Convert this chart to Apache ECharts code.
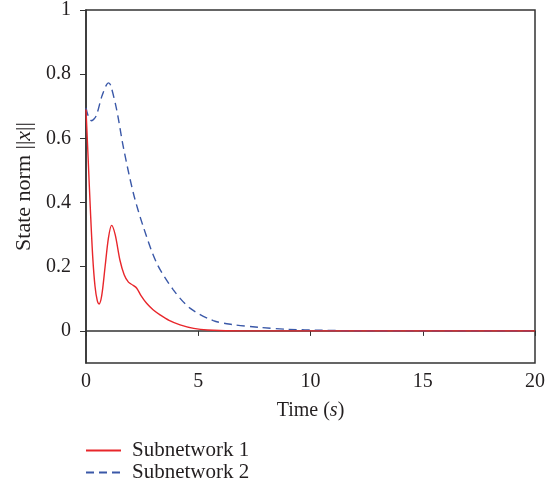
<!DOCTYPE html>
<html>
<head>
<meta charset="utf-8">
<script src="https://cdn.jsdelivr.net/npm/echarts@6/dist/echarts.min.js"></script>
<style>html,body{margin:0;padding:0;background:#fff}#c{width:557px;height:493px}</style>
</head>
<body>
<div id="c"></div>
<script>
const seriesNames = ['Subnetwork 1', 'Subnetwork 2'];
const xTicks = [0, 5, 10, 15, 20];
const yTicks = [0, 0.2, 0.4, 0.6, 0.8, 1];

const t1 = [0, 0.1, 0.2, 0.3, 0.4, 0.5, 0.58, 0.7, 0.85, 1.0, 1.14, 1.3, 1.51, 1.7, 1.89, 2.1, 2.26, 2.45, 2.7, 3.0, 3.3, 3.7, 4.19, 4.8, 5.4, 7, 10, 15, 20];
const v1 = [0.69, 0.53, 0.37, 0.23, 0.14, 0.095, 0.084, 0.11, 0.2, 0.29, 0.329, 0.3, 0.221, 0.175, 0.152, 0.142, 0.133, 0.11, 0.086, 0.065, 0.05, 0.033, 0.019, 0.008, 0.003, 0, 0, 0, 0];

const t2 = [0, 0.1, 0.25, 0.45, 0.7, 0.9, 1.0, 1.1, 1.37, 1.66, 2.11, 2.55, 3.15, 3.89, 4.63, 5.67, 6.5, 7.75, 9, 10.5, 12, 15, 20];
const v2 = [0.695, 0.67, 0.655, 0.67, 0.73, 0.765, 0.773, 0.765, 0.688, 0.574, 0.429, 0.325, 0.211, 0.128, 0.071, 0.032, 0.02, 0.011, 0.005, 0.002, 0.0005, 0, 0];

const pairs = (t, v) => t.map((x, i) => [x, v[i]]);
const FONT = 'Liberation Serif';
const TXT = '#231f20';
const FS = 20;

const chart = echarts.init(document.getElementById('c'), null, {renderer: 'canvas'});
chart.setOption({
  animation: false,
  textStyle: {fontFamily: FONT},
  grid: {left: 86, right: 22, top: 10, bottom: 130, show: true, borderColor: '#333', borderWidth: 1.5},
  legend: {
    orient: 'vertical', left: 85, top: 440, padding: 0, itemWidth: 35, itemHeight: 12, itemGap: 1,
    itemStyle: {color: 'transparent', borderWidth: 0},
    textStyle: {fontFamily: FONT, fontSize: 21, color: TXT, padding: [0, 0, 0, 6]},
    data: seriesNames
  },
  xAxis: {
    type: 'value', min: 0, max: 20, interval: 5,
    name: 'Time ({i|s})', nameLocation: 'middle', nameGap: 38,
    nameTextStyle: {fontFamily: FONT, fontSize: FS, color: TXT, rich: {i: {fontFamily: FONT, fontSize: FS, fontStyle: 'italic', color: TXT}}},
    axisLine: {lineStyle: {color: '#333', width: 1.5}},
    axisTick: {show: true, length: 5, lineStyle: {color: '#333'}, customValues: xTicks},
    axisLabel: {fontFamily: FONT, fontSize: FS, color: TXT, margin: 9, customValues: xTicks},
    splitLine: {show: false}
  },
  yAxis: {
    type: 'value', min: -0.1, max: 1,
    name: 'State norm ||{i|x}||', nameLocation: 'middle', nameGap: 50, nameRotate: 90,
    nameTextStyle: {fontFamily: FONT, fontSize: FS + 2, color: TXT, rich: {i: {fontFamily: FONT, fontSize: FS + 2, fontStyle: 'italic', color: TXT}}},
    axisLine: {show: true, lineStyle: {color: '#333', width: 1.5}},
    axisTick: {show: true, length: 6, lineStyle: {color: '#333'}, customValues: yTicks},
    axisLabel: {fontFamily: FONT, fontSize: FS, color: TXT, margin: 15, customValues: yTicks, formatter: v => String(+v.toFixed(2))},
    splitLine: {show: false}
  },
  series: [
    {name: seriesNames[0], type: 'line', data: pairs(t1, v1), smooth: 0.3, symbol: 'none', z: 3,
     lineStyle: {color: '#e8262b', width: 1.4}, itemStyle: {color: '#e8262b'}},
    {name: seriesNames[1], type: 'line', data: pairs(t2, v2), smooth: 0.3, symbol: 'none', z: 2,
     lineStyle: {color: '#3a58a8', width: 1.4, type: [8, 5]}, itemStyle: {color: '#3a58a8'}}
  ]
});
</script>
</body>
</html>
